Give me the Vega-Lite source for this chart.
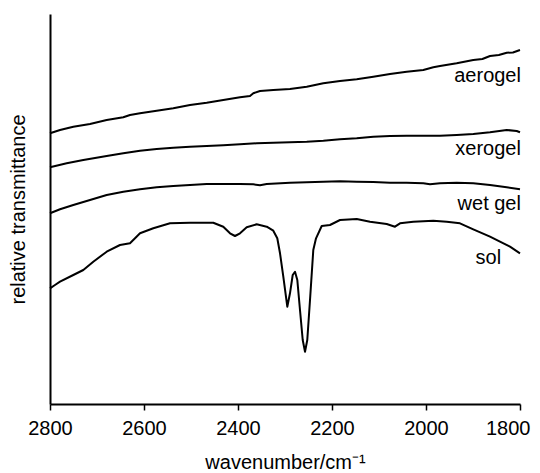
{
  "$schema": "https://vega.github.io/schema/vega-lite/v6.json",
  "autosize": "none",
  "width": 470,
  "height": 390,
  "padding": {"left": 50, "top": 14, "right": 20, "bottom": 69},
  "config": {
    "view": {"stroke": null},
    "font": "Liberation Sans",
    "axis": {"grid": false, "labelFont": "Liberation Sans", "titleFont": "Liberation Sans", "labelColor": "#000", "titleColor": "#000", "domainColor": "#000", "tickColor": "#000"}
  },
  "datasets": {
    "spectra": [
      {"series": "aerogel", "wavenumber": 2800, "value": 270.7},
      {"series": "aerogel", "wavenumber": 2778.7, "value": 274},
      {"series": "aerogel", "wavenumber": 2750.4, "value": 277.3},
      {"series": "aerogel", "wavenumber": 2714.9, "value": 280},
      {"series": "aerogel", "wavenumber": 2679.4, "value": 284},
      {"series": "aerogel", "wavenumber": 2644.0, "value": 286.7},
      {"series": "aerogel", "wavenumber": 2629.8, "value": 289},
      {"series": "aerogel", "wavenumber": 2608.5, "value": 290.7},
      {"series": "aerogel", "wavenumber": 2573.0, "value": 293.3},
      {"series": "aerogel", "wavenumber": 2537.7, "value": 295.7},
      {"series": "aerogel", "wavenumber": 2502.1, "value": 299},
      {"series": "aerogel", "wavenumber": 2466.6, "value": 301.3},
      {"series": "aerogel", "wavenumber": 2431.3, "value": 304},
      {"series": "aerogel", "wavenumber": 2395.7, "value": 306.7},
      {"series": "aerogel", "wavenumber": 2374.5, "value": 308},
      {"series": "aerogel", "wavenumber": 2367.4, "value": 310.7},
      {"series": "aerogel", "wavenumber": 2353.2, "value": 313},
      {"series": "aerogel", "wavenumber": 2324.9, "value": 314},
      {"series": "aerogel", "wavenumber": 2289.4, "value": 315},
      {"series": "aerogel", "wavenumber": 2253.8, "value": 317.3},
      {"series": "aerogel", "wavenumber": 2218.5, "value": 320.7},
      {"series": "aerogel", "wavenumber": 2183.0, "value": 323},
      {"series": "aerogel", "wavenumber": 2147.4, "value": 324.7},
      {"series": "aerogel", "wavenumber": 2112.1, "value": 327.3},
      {"series": "aerogel", "wavenumber": 2076.6, "value": 330},
      {"series": "aerogel", "wavenumber": 2041.1, "value": 332.3},
      {"series": "aerogel", "wavenumber": 2005.7, "value": 334},
      {"series": "aerogel", "wavenumber": 1984.5, "value": 336.7},
      {"series": "aerogel", "wavenumber": 1970.2, "value": 338},
      {"series": "aerogel", "wavenumber": 1934.7, "value": 340.7},
      {"series": "aerogel", "wavenumber": 1899.4, "value": 344},
      {"series": "aerogel", "wavenumber": 1880, "value": 345},
      {"series": "aerogel", "wavenumber": 1863.8, "value": 348},
      {"series": "aerogel", "wavenumber": 1845, "value": 349},
      {"series": "aerogel", "wavenumber": 1828.3, "value": 351.3},
      {"series": "aerogel", "wavenumber": 1815, "value": 351.5},
      {"series": "aerogel", "wavenumber": 1800, "value": 354},
      {"series": "xerogel", "wavenumber": 2800, "value": 236.7},
      {"series": "xerogel", "wavenumber": 2764.5, "value": 240.7},
      {"series": "xerogel", "wavenumber": 2729.1, "value": 244},
      {"series": "xerogel", "wavenumber": 2679.4, "value": 248},
      {"series": "xerogel", "wavenumber": 2644.0, "value": 250.7},
      {"series": "xerogel", "wavenumber": 2608.5, "value": 253.3},
      {"series": "xerogel", "wavenumber": 2573.0, "value": 255},
      {"series": "xerogel", "wavenumber": 2537.7, "value": 256.3},
      {"series": "xerogel", "wavenumber": 2502.1, "value": 257.3},
      {"series": "xerogel", "wavenumber": 2466.6, "value": 258},
      {"series": "xerogel", "wavenumber": 2431.3, "value": 258.7},
      {"series": "xerogel", "wavenumber": 2395.7, "value": 259.7},
      {"series": "xerogel", "wavenumber": 2360.2, "value": 260.7},
      {"series": "xerogel", "wavenumber": 2324.9, "value": 261.3},
      {"series": "xerogel", "wavenumber": 2289.4, "value": 261.7},
      {"series": "xerogel", "wavenumber": 2253.8, "value": 262.3},
      {"series": "xerogel", "wavenumber": 2218.5, "value": 263.3},
      {"series": "xerogel", "wavenumber": 2183.0, "value": 264.7},
      {"series": "xerogel", "wavenumber": 2147.4, "value": 265.7},
      {"series": "xerogel", "wavenumber": 2112.1, "value": 267.3},
      {"series": "xerogel", "wavenumber": 2076.6, "value": 268},
      {"series": "xerogel", "wavenumber": 2041.1, "value": 268.3},
      {"series": "xerogel", "wavenumber": 2005.7, "value": 268.3},
      {"series": "xerogel", "wavenumber": 1970.2, "value": 268.3},
      {"series": "xerogel", "wavenumber": 1934.7, "value": 269},
      {"series": "xerogel", "wavenumber": 1899.4, "value": 270},
      {"series": "xerogel", "wavenumber": 1863.8, "value": 271.7},
      {"series": "xerogel", "wavenumber": 1828.3, "value": 274},
      {"series": "xerogel", "wavenumber": 1807.0, "value": 273},
      {"series": "xerogel", "wavenumber": 1800, "value": 271.7},
      {"series": "wet gel", "wavenumber": 2800, "value": 190.7},
      {"series": "wet gel", "wavenumber": 2778.7, "value": 194.7},
      {"series": "wet gel", "wavenumber": 2750.4, "value": 199},
      {"series": "wet gel", "wavenumber": 2714.9, "value": 204},
      {"series": "wet gel", "wavenumber": 2679.4, "value": 209},
      {"series": "wet gel", "wavenumber": 2644.0, "value": 212.3},
      {"series": "wet gel", "wavenumber": 2608.5, "value": 214.7},
      {"series": "wet gel", "wavenumber": 2573.0, "value": 216.7},
      {"series": "wet gel", "wavenumber": 2537.7, "value": 218},
      {"series": "wet gel", "wavenumber": 2502.1, "value": 219},
      {"series": "wet gel", "wavenumber": 2466.6, "value": 220},
      {"series": "wet gel", "wavenumber": 2431.3, "value": 220},
      {"series": "wet gel", "wavenumber": 2395.7, "value": 220},
      {"series": "wet gel", "wavenumber": 2367.4, "value": 219.7},
      {"series": "wet gel", "wavenumber": 2353.2, "value": 218.7},
      {"series": "wet gel", "wavenumber": 2338.9, "value": 220},
      {"series": "wet gel", "wavenumber": 2289.4, "value": 221.3},
      {"series": "wet gel", "wavenumber": 2253.8, "value": 221.7},
      {"series": "wet gel", "wavenumber": 2218.5, "value": 222.3},
      {"series": "wet gel", "wavenumber": 2183.0, "value": 222.7},
      {"series": "wet gel", "wavenumber": 2147.4, "value": 222.3},
      {"series": "wet gel", "wavenumber": 2112.1, "value": 222},
      {"series": "wet gel", "wavenumber": 2076.6, "value": 221.3},
      {"series": "wet gel", "wavenumber": 2041.1, "value": 221.3},
      {"series": "wet gel", "wavenumber": 2005.7, "value": 220.7},
      {"series": "wet gel", "wavenumber": 1991.5, "value": 219.7},
      {"series": "wet gel", "wavenumber": 1970.2, "value": 220.7},
      {"series": "wet gel", "wavenumber": 1934.7, "value": 221.3},
      {"series": "wet gel", "wavenumber": 1899.4, "value": 220.7},
      {"series": "wet gel", "wavenumber": 1863.8, "value": 219},
      {"series": "wet gel", "wavenumber": 1828.3, "value": 216.7},
      {"series": "wet gel", "wavenumber": 1800, "value": 214.7},
      {"series": "sol", "wavenumber": 2800, "value": 115.7},
      {"series": "sol", "wavenumber": 2789.4, "value": 119},
      {"series": "sol", "wavenumber": 2778.7, "value": 122.3},
      {"series": "sol", "wavenumber": 2750.4, "value": 129},
      {"series": "sol", "wavenumber": 2729.1, "value": 134},
      {"series": "sol", "wavenumber": 2707.9, "value": 142.3},
      {"series": "sol", "wavenumber": 2679.4, "value": 152.3},
      {"series": "sol", "wavenumber": 2651.1, "value": 159},
      {"series": "sol", "wavenumber": 2629.8, "value": 160.7},
      {"series": "sol", "wavenumber": 2619.1, "value": 165.7},
      {"series": "sol", "wavenumber": 2608.5, "value": 170.7},
      {"series": "sol", "wavenumber": 2580.2, "value": 175.7},
      {"series": "sol", "wavenumber": 2544.7, "value": 180.7},
      {"series": "sol", "wavenumber": 2502.1, "value": 181.3},
      {"series": "sol", "wavenumber": 2473.8, "value": 181.3},
      {"series": "sol", "wavenumber": 2452.6, "value": 181.3},
      {"series": "sol", "wavenumber": 2431.3, "value": 177.3},
      {"series": "sol", "wavenumber": 2417.0, "value": 170.7},
      {"series": "sol", "wavenumber": 2406.4, "value": 168},
      {"series": "sol", "wavenumber": 2395.7, "value": 170.7},
      {"series": "sol", "wavenumber": 2381.5, "value": 176.7},
      {"series": "sol", "wavenumber": 2360.2, "value": 179.7},
      {"series": "sol", "wavenumber": 2338.9, "value": 177.3},
      {"series": "sol", "wavenumber": 2324.9, "value": 173.3},
      {"series": "sol", "wavenumber": 2316.4, "value": 165.7},
      {"series": "sol", "wavenumber": 2310.6, "value": 150.7},
      {"series": "sol", "wavenumber": 2303.6, "value": 127.3},
      {"series": "sol", "wavenumber": 2295.1, "value": 97.3},
      {"series": "sol", "wavenumber": 2289.4, "value": 110.7},
      {"series": "sol", "wavenumber": 2283.6, "value": 129},
      {"series": "sol", "wavenumber": 2278.7, "value": 132.3},
      {"series": "sol", "wavenumber": 2273.8, "value": 124},
      {"series": "sol", "wavenumber": 2268.1, "value": 94},
      {"series": "sol", "wavenumber": 2262.3, "value": 64},
      {"series": "sol", "wavenumber": 2257.4, "value": 52.3},
      {"series": "sol", "wavenumber": 2252.6, "value": 64},
      {"series": "sol", "wavenumber": 2246.8, "value": 104},
      {"series": "sol", "wavenumber": 2239.8, "value": 154},
      {"series": "sol", "wavenumber": 2234.0, "value": 165.7},
      {"series": "sol", "wavenumber": 2221.9, "value": 178},
      {"series": "sol", "wavenumber": 2204.3, "value": 179},
      {"series": "sol", "wavenumber": 2183.0, "value": 184},
      {"series": "sol", "wavenumber": 2147.4, "value": 185},
      {"series": "sol", "wavenumber": 2119.1, "value": 182.3},
      {"series": "sol", "wavenumber": 2083.6, "value": 180},
      {"series": "sol", "wavenumber": 2066.0, "value": 177.3},
      {"series": "sol", "wavenumber": 2055.3, "value": 180.7},
      {"series": "sol", "wavenumber": 2027.0, "value": 182.3},
      {"series": "sol", "wavenumber": 1984.5, "value": 183.3},
      {"series": "sol", "wavenumber": 1955.9, "value": 182.3},
      {"series": "sol", "wavenumber": 1927.7, "value": 180.7},
      {"series": "sol", "wavenumber": 1899.4, "value": 174.7},
      {"series": "sol", "wavenumber": 1863.8, "value": 167.3},
      {"series": "sol", "wavenumber": 1842.6, "value": 162.3},
      {"series": "sol", "wavenumber": 1821.3, "value": 157.3},
      {"series": "sol", "wavenumber": 1800, "value": 150.7}
    ],
    "labels": [
      {"label": "aerogel", "wavenumber": 1798, "value": 322},
      {"label": "xerogel", "wavenumber": 1798, "value": 249},
      {"label": "wet gel", "wavenumber": 1798, "value": 194},
      {"label": "sol", "wavenumber": 1840, "value": 140}
    ]
  },
  "layer": [
    {
      "data": {"name": "spectra"},
      "mark": {"type": "line", "color": "#000", "strokeWidth": 2, "strokeJoin": "round"},
      "encoding": {
        "x": {"field": "wavenumber", "type": "quantitative", "scale": {"domain": [2800, 1800], "nice": false, "zero": false},
          "axis": {"title": "wavenumber/cm⁻¹", "values": [2800, 2600, 2400, 2200, 2000, 1800], "format": "d", "labelFontSize": 20, "titleFontSize": 20, "titleFontWeight": "normal", "domainWidth": 2, "tickWidth": 1.5, "tickSize": 6, "labelPadding": 8, "titlePadding": 14, "labelFlush": false,
            "labelAlign": {"expr": "datum.value == 1800 ? 'right' : 'center'"},
            "labelOffset": {"expr": "datum.value == 1800 ? 10 : 0"}}},
        "y": {"field": "value", "type": "quantitative", "scale": {"domain": [0, 390], "nice": false},
          "axis": {"title": "relative transmittance", "ticks": false, "labels": false, "titleFontSize": 20, "titleFontWeight": "normal", "domainWidth": 2, "titlePadding": 22}},
        "detail": {"field": "series"}
      }
    },
    {
      "data": {"name": "labels"},
      "mark": {"type": "text", "align": "right", "baseline": "alphabetic", "fontSize": 20, "font": "Liberation Sans", "color": "#000"},
      "encoding": {
        "x": {"field": "wavenumber", "type": "quantitative"},
        "y": {"field": "value", "type": "quantitative"},
        "text": {"field": "label"}
      }
    }
  ]
}
